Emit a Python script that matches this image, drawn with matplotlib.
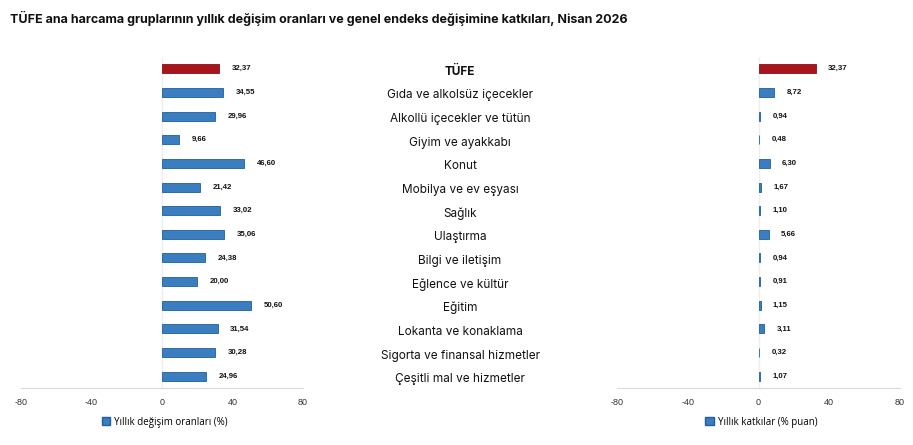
import matplotlib.pyplot as plt
import matplotlib.transforms as mtransforms
from matplotlib.patches import Patch

categories = ['TÜFE', 'Gıda ve alkolsüz içecekler', 'Alkollü içecekler ve tütün',
              'Giyim ve ayakkabı', 'Konut', 'Mobilya ve ev eşyası', 'Sağlık',
              'Ulaştırma', 'Bilgi ve iletişim', 'Eğlence ve kültür', 'Eğitim',
              'Lokanta ve konaklama', 'Sigorta ve finansal hizmetler',
              'Çeşitli mal ve hizmetler']
annual_change = [32.37, 34.55, 29.96, 9.66, 46.60, 21.42, 33.02, 35.06,
                 24.38, 20.00, 50.60, 31.54, 30.28, 24.96]
contribution = [32.37, 8.72, 0.94, 0.48, 6.30, 1.67, 1.10, 5.66,
                0.94, 0.91, 1.15, 3.11, 0.32, 1.07]
ticks = [-80, -40, 0, 40, 80]
legend_left = 'Yıllık değişim oranları (%)'
legend_right = 'Yıllık katkılar (% puan)'
title = 'TÜFE ana harcama gruplarının yıllık değişim oranları ve genel endeks değişimine katkıları, Nisan 2026'

blue = '#3a7ebf'
blue_edge = '#1f5f9f'
red = '#a8141c'
red_edge = '#8c0f16'

fig = plt.figure(figsize=(9.13, 4.45), dpi=100)
ax1 = fig.add_axes([21 / 913, 1 - 388 / 445, 282 / 913, 331 / 445])
ax2 = fig.add_axes([617 / 913, 1 - 388 / 445, 283 / 913, 331 / 445])

pos = list(range(len(categories)))


def draw(ax, vals, leg):
    colors = [red] + [blue] * (len(vals) - 1)
    edges = [red_edge] + [blue_edge] * (len(vals) - 1)
    ax.barh(pos, vals, height=0.38, color=colors, edgecolor=edges, linewidth=0.6, zorder=3)
    for p, v in zip(pos, vals):
        ax.annotate(f'{v:.2f}'.replace('.', ','), (v, p), xytext=(9, 0),
                    textcoords='offset points', ha='left', va='center',
                    fontsize=5.6, fontweight='bold', family='Liberation Sans',
                    color='#111111')
    ax.set_xlim(-80, 80)
    ax.set_ylim(len(vals) - 0.5, -0.5)
    ax.set_xticks(ticks)
    ax.set_xticklabels([str(t) for t in ticks], fontsize=6.5, color='#333333',
                       family='Liberation Sans')
    ax.set_yticks([])
    ax.tick_params(axis='x', length=0, pad=7)
    for s in ['top', 'right', 'left']:
        ax.spines[s].set_visible(False)
    ax.spines['bottom'].set_color('#d9d9d9')
    ax.axvline(0, color='#eeeeee', linewidth=1, zorder=1)
    ax.legend(handles=[Patch(facecolor=blue, edgecolor=blue_edge, label=leg)],
              loc='upper center', bbox_to_anchor=(0.51, -0.06), frameon=False,
              handlelength=0.9, handleheight=0.9, handletextpad=0.4,
              prop={'family': 'Open Sans', 'size': 7})


draw(ax1, annual_change, legend_left)
draw(ax2, contribution, legend_right)

trans = mtransforms.blended_transform_factory(fig.transFigure, ax1.transData)
offset = mtransforms.ScaledTranslation(0, -3 / 100, fig.dpi_scale_trans)
for p, c in zip(pos, categories):
    fig.text(460 / 913, p, c, transform=trans + offset, ha='center', va='center',
             fontsize=8.5, family='Inter', color='#111111',
             fontweight='bold' if p == 0 else 'normal')

fig.text(10 / 913, 1 - 18 / 445, title, ha='left', va='center', fontsize=9,
         fontweight='bold', family='Inter', color='#111111')

fig.savefig('out.png', dpi=100)
